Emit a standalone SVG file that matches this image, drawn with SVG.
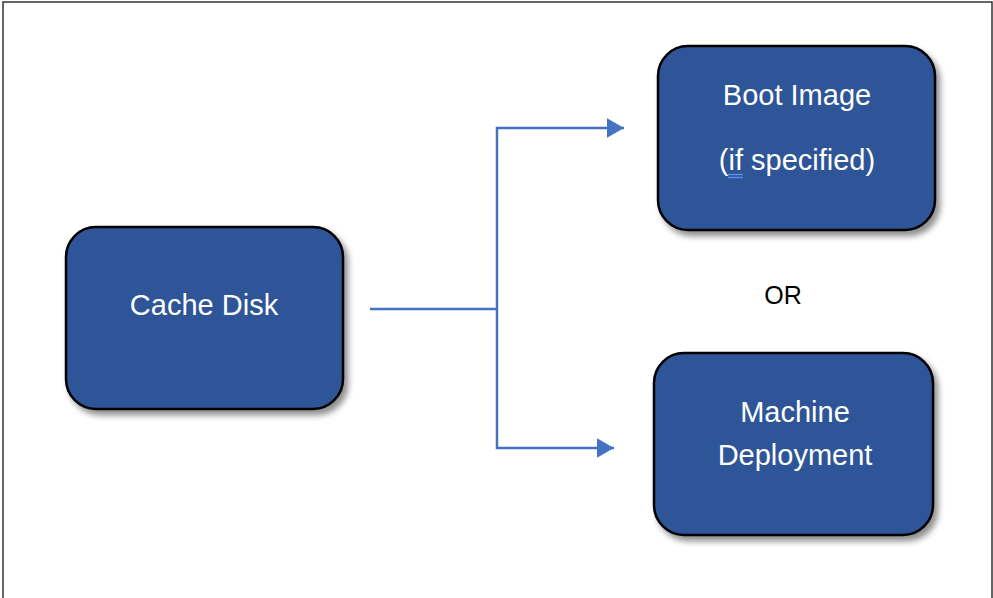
<svg xmlns="http://www.w3.org/2000/svg" width="993" height="598" viewBox="0 0 993 598">
<style>
.box{fill:#2F5597;stroke:#000;stroke-width:2.5;filter:url(#sh)}
.lbl{font-family:"Liberation Sans",Arial,sans-serif;font-size:29px;fill:#fff;text-anchor:middle}
.conn{fill:none;stroke:#4472C4;stroke-width:2.5}
</style>
<defs>
<filter id="sh" x="-10%" y="-10%" width="130%" height="130%">
<feGaussianBlur in="SourceAlpha" stdDeviation="3"/>
<feOffset dx="4" dy="5" result="b"/>
<feComponentTransfer><feFuncA type="linear" slope="0.45"/></feComponentTransfer>
<feMerge><feMergeNode/><feMergeNode in="SourceGraphic"/></feMerge>
</filter>
<marker id="ah" markerWidth="8" markerHeight="8" refX="7" refY="4" orient="auto" markerUnits="strokeWidth">
<path d="M0,0 L7,4 L0,8 z" fill="#4472C4"/>
</marker>
</defs>
<rect x="3" y="2" width="989" height="620" fill="#fff" stroke="#333" stroke-width="1.5"/>
<g id="cache-disk">
<rect class="box" x="66" y="227" width="277" height="182" rx="30"/>
<text class="lbl" x="204" y="315">Cache Disk</text>
</g>
<g id="boot-image">
<rect class="box" x="658" y="46" width="277" height="184" rx="30"/>
<text class="lbl" x="797" y="170">(if specified)</text>
<text class="lbl" x="797" y="105">Boot Image</text>
<line x1="728" y1="174.5" x2="743" y2="174.5" stroke="#5B8FE8" stroke-width="1.4"/>
<line x1="728" y1="177.5" x2="743" y2="177.5" stroke="#5B8FE8" stroke-width="1.4"/>
</g>
<g id="machine-deployment">
<rect class="box" x="654" y="353" width="279" height="182" rx="30"/>
<text class="lbl" x="795" y="422">Machine</text>
<text class="lbl" x="795" y="465">Deployment</text>
</g>
<text x="783" y="304" font-family="Liberation Sans,Arial,sans-serif" font-size="25" fill="#000" text-anchor="middle">OR</text>
<g id="connectors">
<polyline class="conn" points="370,309 497,309"/>
<polyline class="conn" points="497,309 497,128 624,128" marker-end="url(#ah)"/>
<polyline class="conn" points="497,309 497,448 614,448" marker-end="url(#ah)"/>
</g>
</svg>
